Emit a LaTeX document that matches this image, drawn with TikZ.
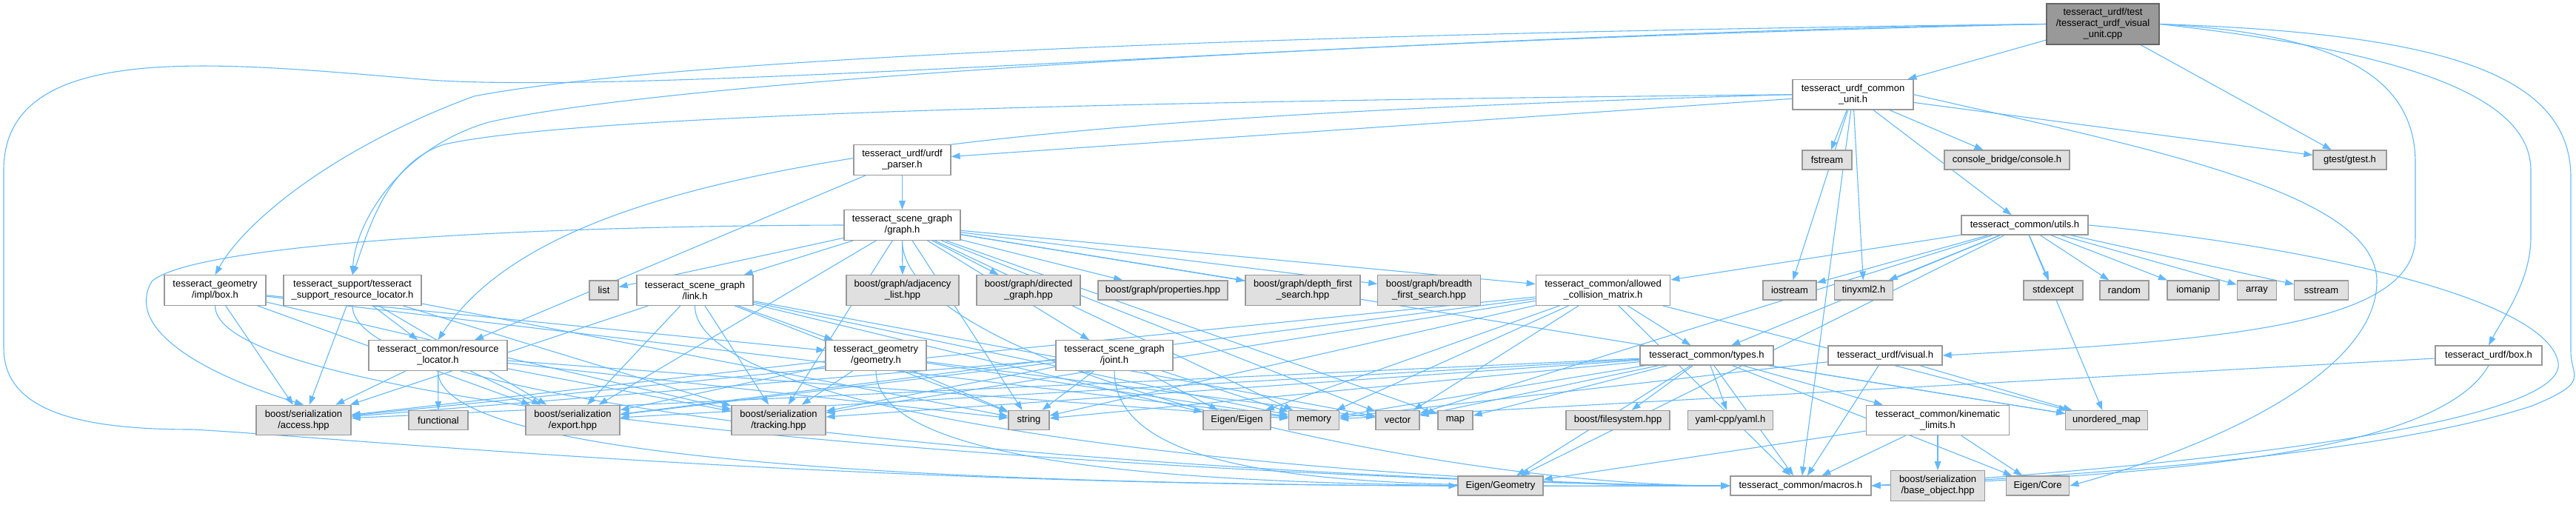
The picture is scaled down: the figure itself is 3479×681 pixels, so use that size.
\documentclass[tikz,border=0pt]{standalone}
\usepackage{fontspec}
\setmainfont{Liberation Sans}
\usetikzlibrary{arrows.meta,backgrounds}

\definecolor{edgeblue}{HTML}{63B8FF}
\definecolor{boxline}{HTML}{999999}
\definecolor{sysfill}{HTML}{E0E0E0}
\definecolor{srcfill}{HTML}{999999}
\definecolor{srcline}{HTML}{666666}
\newcommand{\hdrfont}{\fontsize{13}{15}\selectfont}

\tikzset{
  hdr/.style={draw=boxline, line width=1.2pt, fill=white, align=center,
              font=\hdrfont, inner sep=0pt, minimum height=40.5pt},
  oneline/.style={minimum height=26pt},
  sys/.style={hdr, fill=sysfill, oneline},
  systwo/.style={hdr, fill=sysfill},
  src/.style={hdr, draw=srcline, fill=srcfill, minimum height=55pt},
  inc/.style={draw=edgeblue, line width=1.1pt, -{Triangle[length=12pt,width=8.5pt]}},
}

\begin{document}
\begin{tikzpicture}[x=1pt, y=-1pt]
  \useasboundingbox (0,0) rectangle (3479,681);
  % include graph of the visual unit test, top to bottom
  \node[src, minimum width=152pt] (main) at (2840,32.5) {tesseract\_urdf/test\\/tesseract\_urdf\_visual\\\_unit.cpp};
  \node[hdr, minimum width=163pt] (cu) at (2502.5,127.7) {tesseract\_urdf\_common\\\_unit.h};

  \node[hdr, minimum width=131pt] (parser) at (1218.5,216) {tesseract\_urdf/urdf\\\_parser.h};
  \node[sys, minimum width=67pt]  (fstream) at (2467.5,216) {fstream};
  \node[sys, minimum width=169pt] (console) at (2710.5,216) {console\_bridge/console.h};
  \node[sys, minimum width=99pt]  (gtest) at (3173.5,216) {gtest/gtest.h};

  \node[hdr, minimum width=157pt] (graph) at (1218.5,304) {tesseract\_scene\_graph\\/graph.h};
  \node[hdr, oneline, minimum width=171pt] (utils) at (2734.5,304) {tesseract\_common/utils.h};

  \node[hdr, minimum width=137pt] (gbox) at (290.5,392) {tesseract\_geometry\\/impl/box.h};
  \node[hdr, minimum width=186pt] (srl) at (476,392) {tesseract\_support/tesseract\\\_support\_resource\_locator.h};
  \node[sys, minimum width=39pt]  (list) at (815.5,392) {list};
  \node[hdr, minimum width=157pt] (link) at (938.5,392) {tesseract\_scene\_graph\\/link.h};
  \node[systwo, minimum width=152pt] (adjlist) at (1219,392) {boost/graph/adjacency\\\_list.hpp};
  \node[systwo, minimum width=140pt] (dirgraph) at (1389,392) {boost/graph/directed\\\_graph.hpp};
  \node[sys, minimum width=175pt] (props) at (1570.5,392) {boost/graph/properties.hpp};
  \node[systwo, minimum width=155pt] (dfs) at (1759.5,392) {boost/graph/depth\_first\\\_search.hpp};
  \node[systwo, minimum width=138.5pt] (bfs) at (1930,392) {boost/graph/breadth\\\_first\_search.hpp};
  \node[hdr, minimum width=181.5pt] (acm) at (2165,392) {tesseract\_common/allowed\\\_collision\_matrix.h};
  \node[sys, minimum width=72pt]  (iostream) at (2417,392) {iostream};
  \node[sys, minimum width=78.5pt] (tinyxml) at (2517,392) {tinyxml2.h};
  \node[sys, minimum width=80pt]  (stdexcept) at (2773,392) {stdexcept};
  \node[sys, minimum width=66pt]  (random) at (2869,392) {random};
  \node[sys, minimum width=70pt]  (iomanip) at (2962,392) {iomanip};
  \node[sys, minimum width=53.5pt] (array) at (3048,392) {array};
  \node[sys, minimum width=72.5pt] (sstream) at (3135,392) {sstream};

  \node[hdr, minimum width=187pt] (rloc) at (591.5,480) {tesseract\_common/resource\\\_locator.h};
  \node[hdr, minimum width=136pt] (geom) at (1183,480) {tesseract\_geometry\\/geometry.h};
  \node[hdr, minimum width=158pt] (joint) at (1505,480) {tesseract\_scene\_graph\\/joint.h};
  \node[hdr, oneline, minimum width=180pt] (types) at (2305,480) {tesseract\_common/types.h};
  \node[hdr, oneline, minimum width=154pt] (visual) at (2546,480) {tesseract\_urdf/visual.h};
  \node[hdr, oneline, minimum width=144pt] (ubox) at (3361,480) {tesseract\_urdf/box.h};

  \node[systwo, minimum width=128pt] (access) at (410,567.5) {boost/serialization\\/access.hpp};
  \node[sys, minimum width=80pt]  (functional) at (592,567.5) {functional};
  \node[systwo, minimum width=127pt] (export) at (773.5,567.5) {boost/serialization\\/export.hpp};
  \node[systwo, minimum width=127pt] (tracking) at (1051.5,567.5) {boost/serialization\\/tracking.hpp};
  \node[sys, minimum width=55pt]  (string) at (1389.5,567.5) {string};
  \node[sys, minimum width=91pt]  (eigen) at (1670.5,567.5) {Eigen/Eigen};
  \node[sys, minimum width=68pt]  (memory) at (1774.5,567.5) {memory};
  \node[sys, minimum width=59pt]  (vector) at (1887.5,567.5) {vector};
  \node[sys, minimum width=47pt]  (map) at (1965.5,567.5) {map};
  \node[sys, minimum width=140pt] (fs) at (2185,567.5) {boost/filesystem.hpp};
  \node[sys, minimum width=115pt] (yaml) at (2337,567.5) {yaml-cpp/yaml.h};
  \node[hdr, minimum width=193.5pt] (kinlim) at (2617,567.5) {tesseract\_common/kinematic\\\_limits.h};
  \node[sys, minimum width=110.6pt] (umap) at (2845,567.5) {unordered\_map};

  \node[sys, minimum width=115pt] (egeo) at (2026.5,656) {Eigen/Geometry};
  \node[hdr, oneline, minimum width=190pt] (macros) at (2432,656) {tesseract\_common/macros.h};
  \node[systwo, minimum width=126.5pt] (baseobj) at (2617,656) {boost/serialization\\/base\_object.hpp};
  \node[sys, minimum width=85.6pt] (ecore) at (2752,656) {Eigen/Core};

  \begin{scope}[on background layer]
    % test file
    \foreach \x in {cu,gtest}{\draw[inc] (main)--(\x);}
    \draw[inc] (main.west) .. controls (1900,45) and (900,130) .. (580,108)
      .. controls (300,85) and (5,50) .. (5,230) -- (5,470)
      .. controls (5,560) and (120,580) .. (260,580)
      .. controls (450,590) and (1100,655) .. (egeo.west);
    \draw[inc] (main.west) .. controls (1700,45) and (900,80) .. (640,130)
      .. controls (450,200) and (330,300) .. (gbox.north);
    \draw[inc] (main.west) .. controls (1800,55) and (900,110) .. (660,165)
      .. controls (540,200) and (480,300) .. (srl.north);
    \draw[inc] (main.east) .. controls (3150,45) and (3262,100) .. (3262,220) -- (3262,320)
      .. controls (3262,440) and (3000,460) .. (visual.east);
    \draw[inc] (main.east) .. controls (3250,70) and (3418,130) .. (3418,230) -- (3418,320)
      .. controls (3418,380) and (3380,430) .. (ubox.north);
    \draw[inc] (main.east) .. controls (3300,45) and (3472,100) .. (3472,240) -- (3472,475)
      .. controls (3472,510) and (3500,515) .. (3420,548)
      .. controls (3200,620) and (2750,645) .. (macros.east);
    % common unit header
    \foreach \x in {parser,fstream,console,utils,gtest,tinyxml,iostream,macros}{\draw[inc] (cu)--(\x);}
    \draw[inc] (cu.west) .. controls (1700,135) and (800,150) .. (600,195)
      .. controls (520,220) and (495,320) .. (srl.north);
    \draw[inc] (cu.west) .. controls (1300,160) and (750,220) .. (rloc.north);
    \draw[inc] (cu.east) .. controls (2900,200) and (3210,260) .. (3210,380)
      .. controls (3210,500) and (3000,600) .. (ecore.east);
    % scene graph and friends
    \foreach \x in {graph,rloc}{\draw[inc] (parser)--(\x);}
    \foreach \x in {adjlist,dirgraph,props,dfs,bfs,acm,list,link,joint,export,tracking,string,memory,vector,map,umap}{\draw[inc] (graph)--(\x);}
    \draw[inc] (graph.west) .. controls (700,305) and (260,330) .. (205,380)
      .. controls (170,440) and (260,500) .. (access.north);
    \foreach \x in {access,export,tracking,memory,geom}{\draw[inc] (gbox)--(\x);}
    \foreach \x in {rloc,access,export,tracking,string}{\draw[inc] (srl)--(\x);}
    \foreach \x in {access,functional,export,tracking,memory,string}{\draw[inc] (rloc)--(\x);}
    \foreach \x in {access,export,tracking,geom,eigen,memory,string,vector}{\draw[inc] (link)--(\x);}
    \foreach \x in {access,export,tracking,memory,string,vector}{\draw[inc] (geom)--(\x);}
    \foreach \x in {access,export,tracking,eigen,memory,string}{\draw[inc] (joint)--(\x);}
    \foreach \x in {graph,gbox,srl,rloc,link,geom,joint}{\draw[inc] (\x.south) .. controls +(0,170) and +(-400,0) .. (macros.west);}
    % common headers
    \foreach \x in {types,access,export,tracking,eigen,memory,string,vector,umap,macros}{\draw[inc] (acm)--(\x);}
    \foreach \x in {iostream,tinyxml,stdexcept,random,iomanip,array,sstream,types,acm,vector,umap,egeo}{\draw[inc] (utils)--(\x);}
    \draw[inc] (utils.east) .. controls (3100,330) and (3440,400) .. (3455,490)
      .. controls (3465,560) and (3100,620) .. (macros.east);
    \foreach \x in {access,export,tracking,ecore,egeo,vector,memory,map,umap,string,fs,yaml,kinlim,macros}{\draw[inc] (types)--(\x);}
    \foreach \x in {macros,memory,umap}{\draw[inc] (visual)--(\x);}
    \draw[inc] (ubox)--(memory);
    \draw[inc] (ubox.south) .. controls (3300,600) and (3000,640) .. (macros.east);
    \foreach \x in {macros,baseobj,ecore,egeo}{\draw[inc] (kinlim)--(\x);}
  \end{scope}
\end{tikzpicture}
\end{document}
